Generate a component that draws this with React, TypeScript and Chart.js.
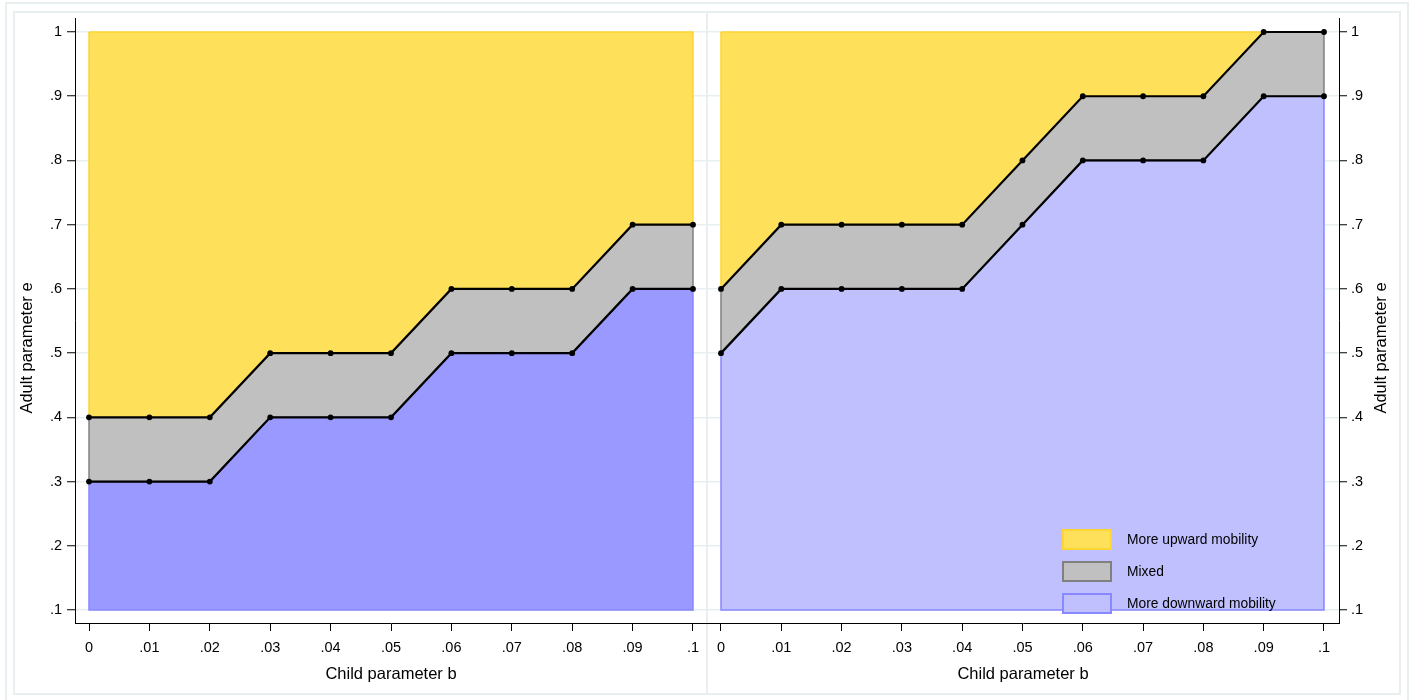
import React, { useEffect, useRef } from "react";
import { Chart, registerables } from "chart.js";

Chart.register(...registerables);

// ---------- data ----------
const xValues = [0, 0.01, 0.02, 0.03, 0.04, 0.05, 0.06, 0.07, 0.08, 0.09, 0.1];
const xTickLabels = ["0", ".01", ".02", ".03", ".04", ".05", ".06", ".07", ".08", ".09", ".1"];
const yTickValues = [0.1, 0.2, 0.3, 0.4, 0.5, 0.6, 0.7, 0.8, 0.9, 1];
const yTickLabels = [".1", ".2", ".3", ".4", ".5", ".6", ".7", ".8", ".9", "1"];

const leftUpper = [0.4, 0.4, 0.4, 0.5, 0.5, 0.5, 0.6, 0.6, 0.6, 0.7, 0.7];
const leftLower = [0.3, 0.3, 0.3, 0.4, 0.4, 0.4, 0.5, 0.5, 0.5, 0.6, 0.6];
const rightUpper = [0.6, 0.7, 0.7, 0.7, 0.7, 0.8, 0.9, 0.9, 0.9, 1, 1];
const rightLower = [0.5, 0.6, 0.6, 0.6, 0.6, 0.7, 0.8, 0.8, 0.8, 0.9, 0.9];

const floorValue = 0.1;
const ceilValue = 1;

const legendLabels = ["More upward mobility", "Mixed", "More downward mobility"];
const xTitle = "Child parameter b";
const yTitle = "Adult parameter e";

// ---------- styles ----------
const FONT = '"Liberation Sans", Arial, Helvetica, sans-serif';
const YELLOW = "rgb(254,224,90)";
const YELLOW_BORDER = "rgb(254,214,50)";
const GRAY = "rgb(192,192,192)";
const GRAY_BORDER = "rgb(128,128,128)";
const BLUE_LEFT = "rgb(153,153,255)";
const BLUE_RIGHT = "rgb(192,192,255)";
const BLUE_BORDER = "rgb(136,136,255)";
const GRID = "#e8eff1";

type Pt = { x: number; y: number };

function pts(ys: number[]): Pt[] {
  return xValues.map((x, i) => ({ x, y: ys[i] }));
}

// closed polygon: top boundary left->right, bottom boundary right->left, back to start
function region(bottom: number[], top: number[]): Pt[] {
  const t = pts(top);
  const b = pts(bottom).reverse();
  return [...t, ...b, t[0]];
}

function labelFor(values: number[], labels: string[], v: number): string {
  const i = values.findIndex((u) => Math.abs(u - v) < 1e-9);
  return i >= 0 ? labels[i] : "";
}

function makeConfig(side: "left" | "right", upper: number[], lower: number[], blue: string): any {
  const floor = xValues.map(() => floorValue);
  const ceil = xValues.map(() => ceilValue);
  const lineStyle = {
    borderColor: "#000",
    borderWidth: 2.2,
    pointRadius: 2.9,
    pointBackgroundColor: "#000",
    pointBorderWidth: 0,
    fill: false,
    order: 0,
    tension: 0,
  };
  const areaStyle = { fill: "shape", borderWidth: 1.5, pointRadius: 0, order: 1, tension: 0 };

  const titlePlugin = {
    id: "ytitle" + side,
    afterDraw(chart: any) {
      const ctx = chart.ctx;
      const x = side === "left" ? 27 : chart.width - 29;
      const y = 348;
      ctx.save();
      ctx.translate(x, y);
      ctx.rotate(-Math.PI / 2);
      ctx.fillStyle = "#000";
      ctx.font = `16.5px ${FONT}`;
      ctx.textAlign = "center";
      ctx.textBaseline = "middle";
      ctx.fillText(yTitle, 0, 0);
      ctx.restore();
    },
  };

  const legendPlugin = {
    id: "legendbox",
    afterDraw(chart: any) {
      if (side !== "right") return;
      const ctx = chart.ctx;
      const { right, bottom } = chart.chartArea;
      const x0 = right - 277;
      const fills = [YELLOW, GRAY, BLUE_RIGHT];
      const borders = [YELLOW_BORDER, GRAY_BORDER, BLUE_BORDER];
      const tops = [bottom - 94, bottom - 62, bottom - 30];
      ctx.save();
      for (let i = 0; i < 3; i++) {
        ctx.fillStyle = fills[i];
        ctx.fillRect(x0, tops[i], 50, 21);
        ctx.strokeStyle = borders[i];
        ctx.lineWidth = 2;
        ctx.strokeRect(x0 + 1, tops[i] + 1, 48, 19);
        ctx.fillStyle = "#000";
        ctx.font = `13.8px ${FONT}`;
        ctx.textAlign = "left";
        ctx.textBaseline = "middle";
        ctx.fillText(legendLabels[i], x0 + 65, tops[i] + 11);
      }
      ctx.restore();
    },
  };

  const xMin = -0.00232;
  const xMax = side === "left" ? 0.10232 : 0.10249;

  return {
    type: "line",
    data: {
      datasets: [
        { label: "upper", data: pts(upper), ...lineStyle },
        { label: "lower", data: pts(lower), ...lineStyle },
        { label: legendLabels[0], data: region(upper, ceil), backgroundColor: YELLOW, borderColor: YELLOW_BORDER, ...areaStyle },
        { label: legendLabels[1], data: region(lower, upper), backgroundColor: GRAY, borderColor: GRAY_BORDER, ...areaStyle },
        { label: legendLabels[2], data: region(floor, lower), backgroundColor: blue, borderColor: BLUE_BORDER, ...areaStyle },
      ],
    },
    options: {
      animation: false,
      responsive: false,
      maintainAspectRatio: false,
      devicePixelRatio: 1,
      layout: { autoPadding: false, padding: { top: 18, left: 0, right: 0, bottom: 0 } },
      plugins: { legend: { display: false }, tooltip: { enabled: false } },
      scales: {
        x: {
          type: "linear",
          min: xMin,
          max: xMax,
          afterBuildTicks: (s: any) => {
            s.ticks = xValues.map((v) => ({ value: v }));
          },
          afterFit: (s: any) => {
            s.height = 77;
            s.paddingLeft = 0;
            s.paddingRight = 0;
          },
          ticks: {
            autoSkip: false,
            maxRotation: 0,
            color: "#000",
            padding: 8,
            font: { size: 14.5, family: FONT },
            callback: (v: number) => labelFor(xValues, xTickLabels, v),
          },
          grid: { drawOnChartArea: false, tickLength: 8, tickColor: "#000", tickWidth: 1 },
          border: { display: true, color: "#000", width: 1 },
          title: {
            display: true,
            text: xTitle,
            color: "#000",
            font: { size: 16.5, family: FONT, lineHeight: 1.2 },
            padding: { top: 0, bottom: 16 },
          },
        },
        y: {
          type: "linear",
          position: side,
          min: 0.0798,
          max: 1.0218,
          afterBuildTicks: (s: any) => {
            s.ticks = yTickValues.map((v) => ({ value: v }));
          },
          afterFit: (s: any) => {
            s.width = side === "left" ? 75 : 71;
            s.paddingTop = 0;
            s.paddingBottom = 0;
          },
          ticks: {
            autoSkip: false,
            color: "#000",
            padding: side === "left" ? 5 : 4,
            font: { size: 14.5, family: FONT },
            callback: (v: number) => labelFor(yTickValues, yTickLabels, v),
          },
          grid: { color: GRID, lineWidth: 1.5, tickLength: 8, tickColor: "#000", tickWidth: 1 },
          border: { display: true, color: "#000", width: 1 },
          title: { display: false },
        },
      },
    },
    plugins: [titlePlugin, legendPlugin],
  };
}

function Panel(props: { side: "left" | "right"; upper: number[]; lower: number[]; blue: string; left: number; width: number }) {
  const ref = useRef<HTMLCanvasElement | null>(null);
  useEffect(() => {
    if (!ref.current) return;
    const chart = new Chart(ref.current, makeConfig(props.side, props.upper, props.lower, props.blue));
    return () => chart.destroy();
  }, []);
  return (
    <canvas
      ref={ref}
      width={props.width}
      height={700}
      style={{ position: "absolute", left: props.left, top: 0, width: props.width, height: 700, zIndex: 2 }}
    />
  );
}

export default function App() {
  const frame = "#e9eff1";
  return (
    <div style={{ position: "fixed", left: 0, top: 0, width: 1410, height: 700, background: "#fff", overflow: "hidden" }}>
      <div style={{ position: "absolute", left: 5, top: 2, width: 1400, height: 720, border: `2px solid ${frame}`, zIndex: 1 }} />
      <div style={{ position: "absolute", left: 13, top: 11, width: 1384, height: 680, border: `2px solid ${frame}`, zIndex: 1 }} />
      <div style={{ position: "absolute", left: 706, top: 12, width: 2, height: 681, background: frame, zIndex: 1 }} />
      <Panel side="left" upper={leftUpper} lower={leftLower} blue={BLUE_LEFT} left={0} width={707} />
      <Panel side="right" upper={rightUpper} lower={rightLower} blue={BLUE_RIGHT} left={707} width={703} />
    </div>
  );
}
